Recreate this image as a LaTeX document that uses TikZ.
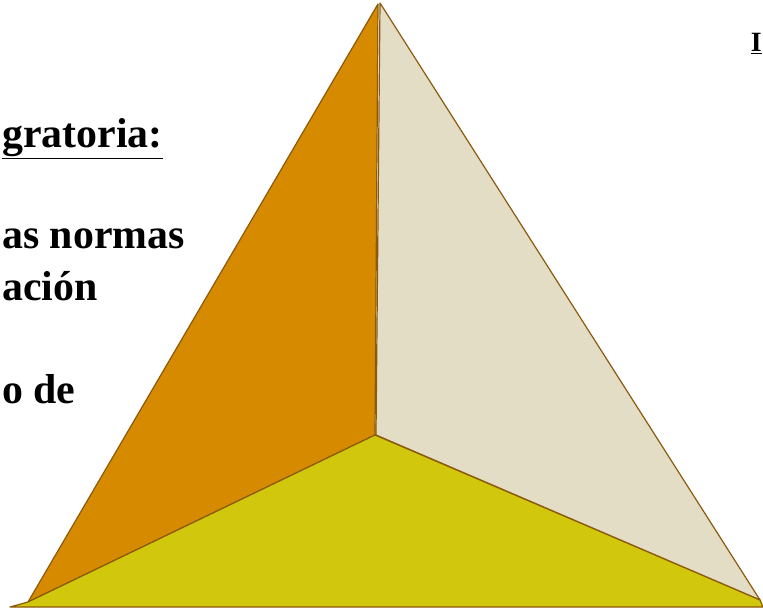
\documentclass[tikz,border=0pt]{standalone}
\usepackage{fontspec}
\setmainfont{Liberation Serif}
\usepackage{tikz}
\definecolor{FaceOrange}{HTML}{D68A00}
\definecolor{FaceBeige}{HTML}{E3DDC6}
\definecolor{FaceYellow}{HTML}{D1C70C}
\definecolor{EdgeBrown}{HTML}{8C5A0A}
\begin{document}
\begin{tikzpicture}[x=1bp,y=-1bp,
face/.style={draw=EdgeBrown,line width=1.2bp,line join=round},
lefttxt/.style={anchor=base west,inner sep=0pt,font=\bfseries\fontsize{42}{50}\selectfont},
righttxt/.style={anchor=base east,inner sep=0pt,font=\bfseries\fontsize{28}{34}\selectfont}]
\useasboundingbox[fill=white] (0,0) rectangle (763,610);
% corners of the pyramid
\coordinate (topL) at (378,4);
\coordinate (topR) at (380,3);
\coordinate (mid) at (375,435);
\coordinate (midR) at (376,435);
\coordinate (baseL) at (28,602);
\coordinate (farL) at (10,607);
\coordinate (baseR) at (760,600);
\coordinate (farR) at (763,607);
% faces
\draw[face,fill=FaceOrange] (topL) -- (mid) -- (baseL) -- cycle;
\draw[face,fill=FaceBeige] (topR) -- (baseR) -- (midR) -- cycle;
\draw[face,fill=FaceYellow] (mid) -- (baseR) -- (farR) -- (farL) -- (baseL) -- cycle;
% text at the page edges
\node[lefttxt] (title) at (2,148) {\underline{gratoria:}};
\node[lefttxt] (lineA) at (2,248) {as normas};
\node[lefttxt] (lineB) at (2,300) {ación};
\node[lefttxt] (lineC) at (2,403) {o de};
\node[righttxt] (rtitle) at (762,52) {\underline{I}};
\end{tikzpicture}
\end{document}
